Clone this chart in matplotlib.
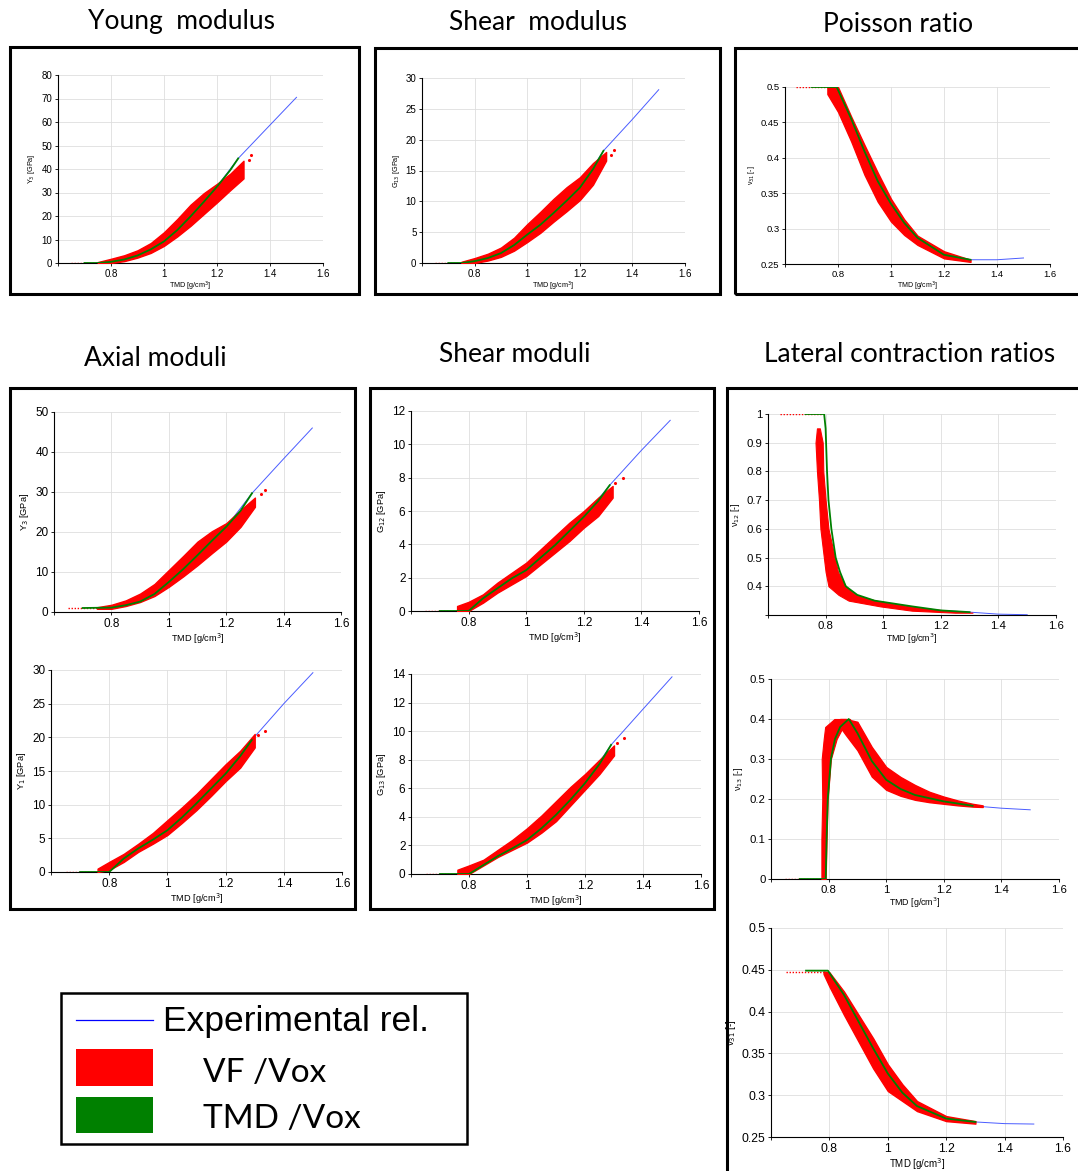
import matplotlib
matplotlib.use("Agg")
import matplotlib.pyplot as plt
from matplotlib.patches import Rectangle
from matplotlib.lines import Line2D
from matplotlib.ticker import FuncFormatter

plt.rcParams['font.family'] = ['Liberation Sans', 'DejaVu Sans']

W, H = 1078, 1171

# ---------------- data ----------------
# each panel: TMD/Vox curve (green), experimental relation (blue),
# VF/Vox scatter band (red, lower/upper edge), flat red run, outliers

# Young modulus Y3
ya_tmd_x = [0.70, 0.75, 0.80, 0.85, 0.90, 0.95, 1.00, 1.05, 1.10, 1.15, 1.20, 1.25, 1.28]
ya_tmd_y = [0, 0, 0.5, 1.5, 3.2, 5.8, 9.2, 14, 19.8, 26, 32.5, 39.5, 44.5]
ya_exp_x = [1.20, 1.28, 1.40, 1.50]
ya_exp_y = [32.5, 44.5, 58.7, 70.5]
ya_vf_x = [0.75, 0.80, 0.85, 0.90, 0.95, 1.00, 1.05, 1.10, 1.15, 1.20, 1.25, 1.30]
ya_vf_lo = [0, 0, 0.8, 2.3, 4.3, 7.3, 11.3, 15.8, 20.8, 25.8, 31, 36]
ya_vf_hi = [0.4, 1.8, 3.3, 5.4, 8.5, 13.1, 18.7, 24.8, 29.7, 33.7, 38, 43.5]
ya_flat = [0.65, 0.77, 0]
ya_out_x, ya_out_y = [1.33, 1.32], [46, 44]

# Shear modulus G13
yb_tmd_x = [0.70, 0.75, 0.80, 0.85, 0.90, 0.95, 1.00, 1.05, 1.10, 1.15, 1.20, 1.25, 1.29]
yb_tmd_y = [0, 0, 0.3, 0.8, 1.6, 2.9, 4.6, 6.2, 8.1, 10.1, 12.2, 15.2, 18.2]
yb_exp_x = [1.20, 1.29, 1.40, 1.50]
yb_exp_y = [12.2, 18.2, 23.3, 28.1]
yb_vf_x = [0.75, 0.80, 0.85, 0.90, 0.95, 1.00, 1.05, 1.10, 1.15, 1.20, 1.25, 1.30]
yb_vf_lo = [0, 0, 0.4, 1.0, 2.0, 3.4, 4.9, 6.7, 8.4, 10.2, 12.7, 16.6]
yb_vf_hi = [0.2, 0.8, 1.5, 2.5, 4.1, 6.3, 8.3, 10.4, 12.3, 13.9, 16.2, 18.0]
yb_flat = [0.65, 0.77, 0]
yb_out_x, yb_out_y = [1.33, 1.32], [18.3, 17.5]

# Poisson ratio
yc_tmd_x = [0.70, 0.795, 0.85, 0.90, 0.95, 1.00, 1.05, 1.10, 1.20, 1.30]
yc_tmd_y = [0.5, 0.5, 0.455, 0.409, 0.367, 0.335, 0.308, 0.287, 0.263, 0.256]
yc_exp_x = [1.20, 1.30, 1.40, 1.50]
yc_exp_y = [0.263, 0.256, 0.256, 0.2585]
yc_vf_x = [0.76, 0.80, 0.85, 0.90, 0.95, 1.00, 1.05, 1.10, 1.20, 1.30]
yc_vf_lo = [0.49, 0.465, 0.423, 0.376, 0.338, 0.31, 0.291, 0.277, 0.258, 0.253]
yc_vf_hi = [0.5, 0.5, 0.458, 0.418, 0.379, 0.342, 0.313, 0.29, 0.268, 0.256]
yc_flat = [0.64, 0.78, 0.5]
yc_out_x, yc_out_y = [], []

# Axial modulus Y3
yd_tmd_x = [0.70, 0.80, 0.85, 0.90, 0.95, 1.00, 1.05, 1.10, 1.15, 1.20, 1.25, 1.29]
yd_tmd_y = [1.0, 1.1, 1.7, 2.6, 4.5, 7.5, 10.7, 14.2, 17.8, 21.3, 25.3, 29.7]
yd_exp_x = [1.20, 1.29, 1.40, 1.50]
yd_exp_y = [21.3, 29.7, 38.3, 46]
yd_vf_x = [0.75, 0.80, 0.85, 0.90, 0.95, 1.00, 1.05, 1.10, 1.15, 1.20, 1.25, 1.30]
yd_vf_lo = [0.8, 0.8, 1.5, 2.5, 4.0, 6.3, 8.9, 11.7, 14.7, 17.6, 21.3, 26.3]
yd_vf_hi = [1.2, 1.8, 2.9, 4.6, 7.0, 10.5, 14.0, 17.6, 20.2, 22.2, 25.5, 28.6]
yd_flat = [0.65, 0.77, 1.0]
yd_out_x, yd_out_y = [1.335, 1.32], [30.5, 29.5]

# Shear modulus G12
ye_tmd_x = [0.70, 0.80, 0.85, 0.90, 0.95, 1.00, 1.05, 1.10, 1.15, 1.20, 1.25, 1.29]
ye_tmd_y = [0, 0, 0.76, 1.36, 1.96, 2.45, 3.2, 3.95, 4.8, 5.65, 6.6, 7.55]
ye_exp_x = [1.20, 1.29, 1.40, 1.50]
ye_exp_y = [5.65, 7.55, 9.64, 11.44]
ye_vf_x = [0.76, 0.80, 0.85, 0.90, 0.95, 1.00, 1.05, 1.10, 1.15, 1.20, 1.25, 1.30]
ye_vf_lo = [0, 0, 0.5, 1.1, 1.6, 2.1, 2.8, 3.5, 4.2, 5.0, 5.7, 6.8]
ye_vf_hi = [0.3, 0.55, 1.0, 1.7, 2.3, 2.9, 3.7, 4.5, 5.3, 6.0, 6.8, 7.5]
ye_flat = [0.65, 0.76, 0]
ye_out_x, ye_out_y = [1.335, 1.31], [8.0, 7.7]

# Axial modulus Y1
yf_tmd_x = [0.70, 0.80, 0.85, 0.90, 0.95, 1.00, 1.05, 1.10, 1.15, 1.20, 1.25, 1.29]
yf_tmd_y = [0, 0, 2.0, 3.5, 4.8, 6.2, 8.1, 10.2, 12.4, 14.6, 17.2, 19.6]
yf_exp_x = [1.20, 1.29, 1.40, 1.50]
yf_exp_y = [14.6, 19.6, 25.0, 29.6]
yf_vf_x = [0.76, 0.80, 0.85, 0.90, 0.95, 1.00, 1.05, 1.10, 1.15, 1.20, 1.25, 1.30]
yf_vf_lo = [0, 0.3, 1.5, 3.0, 4.2, 5.5, 7.3, 9.2, 11.3, 13.5, 15.5, 18.5]
yf_vf_hi = [0.5, 1.5, 2.7, 4.2, 5.8, 7.7, 9.6, 11.6, 13.8, 16.0, 18.0, 20.5]
yf_flat = [0.65, 0.76, 0]
yf_out_x, yf_out_y = [1.335, 1.31], [21.0, 20.4]

# Shear modulus G13 (lower)
yg_tmd_x = [0.70, 0.80, 0.85, 0.90, 0.95, 1.00, 1.05, 1.10, 1.15, 1.20, 1.25, 1.29]
yg_tmd_y = [0, 0, 0.63, 1.26, 1.8, 2.38, 3.2, 4.14, 5.2, 6.36, 7.7, 9.04]
yg_exp_x = [1.20, 1.29, 1.40, 1.50]
yg_exp_y = [6.36, 9.04, 11.54, 13.8]
yg_vf_x = [0.76, 0.80, 0.85, 0.90, 0.95, 1.00, 1.05, 1.10, 1.15, 1.20, 1.25, 1.30]
yg_vf_lo = [0, 0, 0.6, 1.2, 1.7, 2.2, 2.9, 3.7, 4.8, 5.9, 7.0, 8.3]
yg_vf_hi = [0.3, 0.6, 1.0, 1.7, 2.4, 3.2, 4.1, 5.1, 6.1, 7.0, 8.0, 9.0]
yg_flat = [0.65, 0.76, 0]
yg_out_x, yg_out_y = [1.335, 1.31], [9.5, 9.2]

# Lateral contraction nu12 (band given along y)
yh_tmd_x = [0.73, 0.795, 0.80, 0.805, 0.81, 0.82, 0.835, 0.85, 0.87, 0.91, 0.97, 1.10, 1.20, 1.30]
yh_tmd_y = [1.0, 1.0, 0.95, 0.8, 0.7, 0.6, 0.5, 0.45, 0.4, 0.37, 0.35, 0.33, 0.316, 0.31]
yh_exp_x = [1.20, 1.30, 1.40, 1.50]
yh_exp_y = [0.316, 0.31, 0.303, 0.301]
yh_vf_y = [0.95, 0.9, 0.8, 0.7, 0.6, 0.5, 0.45, 0.4, 0.37, 0.35, 0.33, 0.315, 0.308]
yh_vf_xl = [0.77, 0.765, 0.77, 0.777, 0.782, 0.794, 0.80, 0.81, 0.845, 0.88, 0.99, 1.10, 1.25]
yh_vf_xr = [0.78, 0.79, 0.792, 0.80, 0.81, 0.832, 0.843, 0.87, 0.905, 0.975, 1.09, 1.22, 1.31]
yh_flat = [0.64, 0.79, 1.0]

# Lateral contraction nu13 (rising part along y, falling part along x)
yi_tmd_x = [0.70, 0.79, 0.793, 0.797, 0.808, 0.822, 0.84, 0.87, 0.90, 0.95, 1.00, 1.05, 1.10, 1.20, 1.30]
yi_tmd_y = [0, 0, 0.1, 0.2, 0.3, 0.35, 0.38, 0.40, 0.365, 0.295, 0.248, 0.225, 0.21, 0.194, 0.183]
yi_exp_x = [1.20, 1.30, 1.40, 1.50]
yi_exp_y = [0.194, 0.183, 0.177, 0.173]
yi_up_y = [0.0, 0.1, 0.2, 0.3, 0.35, 0.38, 0.40]
yi_up_xl = [0.775, 0.775, 0.778, 0.776, 0.783, 0.788, 0.82]
yi_up_xr = [0.79, 0.793, 0.797, 0.808, 0.828, 0.85, 0.875]
yi_vf_x = [0.84, 0.86, 0.90, 0.95, 1.00, 1.05, 1.10, 1.15, 1.20, 1.25, 1.30, 1.335]
yi_vf_lo = [0.38, 0.36, 0.322, 0.256, 0.223, 0.208, 0.198, 0.192, 0.188, 0.184, 0.181, 0.18]
yi_vf_hi = [0.40, 0.40, 0.393, 0.33, 0.28, 0.255, 0.235, 0.218, 0.206, 0.196, 0.188, 0.184]
yi_flat = [0.65, 0.78, 0]

# Lateral contraction nu31
yj_tmd_x = [0.72, 0.795, 0.85, 0.90, 0.95, 1.00, 1.05, 1.10, 1.20, 1.30]
yj_tmd_y = [0.449, 0.449, 0.42, 0.388, 0.356, 0.326, 0.303, 0.287, 0.272, 0.268]
yj_exp_x = [1.20, 1.30, 1.40, 1.50]
yj_exp_y = [0.272, 0.268, 0.266, 0.2655]
yj_vf_x = [0.78, 0.80, 0.85, 0.90, 0.95, 1.00, 1.05, 1.10, 1.20, 1.30]
yj_vf_lo = [0.445, 0.43, 0.396, 0.364, 0.332, 0.305, 0.293, 0.281, 0.269, 0.266]
yj_vf_hi = [0.448, 0.447, 0.424, 0.396, 0.368, 0.337, 0.313, 0.293, 0.275, 0.269]
yj_flat = [0.65, 0.78, 0.447]

x_ticks = [0.6, 0.8, 1.0, 1.2, 1.4, 1.6]

fig = plt.figure(figsize=(W / 100, H / 100), dpi=100)


def px_rect(l, t, r, b):
    return [l / W, 1 - b / H, (r - l) / W, (b - t) / H]


def make_axes(box, ylim, yticks, ylabel, fs, hide=()):
    ax = fig.add_axes(px_rect(*box))
    ax.set_xlim(0.6, 1.6)
    ax.set_ylim(*ylim)
    ax.set_xticks(x_ticks)
    ax.set_yticks(yticks)
    ax.xaxis.set_major_formatter(FuncFormatter(lambda v, p: '' if abs(v - 0.6) < 1e-9 else '%g' % round(v, 3)))
    ax.yaxis.set_major_formatter(FuncFormatter(lambda v, p: '' if round(v, 3) in hide else '%g' % round(v, 3)))
    ax.grid(True, color='#dedede', lw=0.6)
    ax.set_axisbelow(True)
    for s in ['top', 'right']:
        ax.spines[s].set_visible(False)
    for s in ['left', 'bottom']:
        ax.spines[s].set_linewidth(0.8)
    ax.tick_params(labelsize=fs, length=2, width=0.6, pad=2)
    ax.set_xlabel('TMD [g/cm$^3$]', fontsize=fs - 1.8, labelpad=1)
    ax.set_ylabel(ylabel, fontsize=fs - 1.8, labelpad=3)
    return ax


def draw(ax, tmd_x, tmd_y, exp_x, exp_y, flat, out_x=(), out_y=()):
    ax.plot(exp_x, exp_y, color='#4a5cff', lw=0.7, zorder=2)
    ax.plot(flat[:2], [flat[2], flat[2]], color='red', lw=1.0, ls=(0, (1, 1.2)), zorder=3)
    if len(out_x):
        ax.scatter(out_x, out_y, s=1.5, color='red', zorder=3)
    ax.plot(tmd_x, tmd_y, color='#008000', lw=1.3, zorder=4)


def band(ax, x, lo, hi):
    ax.fill_between(x, lo, hi, color='red', lw=1.0, ec='red', zorder=3)


# top row
ax = make_axes((58, 75, 323, 263), (0, 80), range(0, 81, 10), 'Y$_3$ [GPa]', 7)
band(ax, ya_vf_x, ya_vf_lo, ya_vf_hi)
draw(ax, ya_tmd_x, ya_tmd_y, ya_exp_x, ya_exp_y, ya_flat, ya_out_x, ya_out_y)

ax = make_axes((422, 78, 685, 263), (0, 30), range(0, 31, 5), 'G$_{13}$ [GPa]', 7)
band(ax, yb_vf_x, yb_vf_lo, yb_vf_hi)
draw(ax, yb_tmd_x, yb_tmd_y, yb_exp_x, yb_exp_y, yb_flat, yb_out_x, yb_out_y)

ax = make_axes((785, 87, 1050, 264), (0.25, 0.5), [0.25, 0.3, 0.35, 0.4, 0.45, 0.5], '\u03bd$_{31}$ [-]', 6.8)
band(ax, yc_vf_x, yc_vf_lo, yc_vf_hi)
draw(ax, yc_tmd_x, yc_tmd_y, yc_exp_x, yc_exp_y, yc_flat)

# axial moduli
ax = make_axes((54, 412, 341, 612), (0, 50), range(0, 51, 10), 'Y$_3$ [GPa]', 8.5)
band(ax, yd_vf_x, yd_vf_lo, yd_vf_hi)
draw(ax, yd_tmd_x, yd_tmd_y, yd_exp_x, yd_exp_y, yd_flat, yd_out_x, yd_out_y)

ax = make_axes((51, 670, 342, 872), (0, 30), range(0, 31, 5), 'Y$_1$ [GPa]', 8.5)
band(ax, yf_vf_x, yf_vf_lo, yf_vf_hi)
draw(ax, yf_tmd_x, yf_tmd_y, yf_exp_x, yf_exp_y, yf_flat, yf_out_x, yf_out_y)

# shear moduli
ax = make_axes((411, 411, 699, 611), (0, 12), range(0, 13, 2), 'G$_{12}$ [GPa]', 8.5)
band(ax, ye_vf_x, ye_vf_lo, ye_vf_hi)
draw(ax, ye_tmd_x, ye_tmd_y, ye_exp_x, ye_exp_y, ye_flat, ye_out_x, ye_out_y)

ax = make_axes((411, 674, 701, 874), (0, 14), range(0, 15, 2), 'G$_{13}$ [GPa]', 8.5)
band(ax, yg_vf_x, yg_vf_lo, yg_vf_hi)
draw(ax, yg_tmd_x, yg_tmd_y, yg_exp_x, yg_exp_y, yg_flat, yg_out_x, yg_out_y)

# lateral contraction ratios
ax = make_axes((768, 414, 1056, 615), (0.3, 1.0), [0.3, 0.4, 0.5, 0.6, 0.7, 0.8, 0.9, 1.0],
               '\u03bd$_{12}$ [-]', 8.2, hide=(0.3,))
ax.fill_betweenx(yh_vf_y, yh_vf_xl, yh_vf_xr, color='red', lw=0.8, ec='red', zorder=3)
draw(ax, yh_tmd_x, yh_tmd_y, yh_exp_x, yh_exp_y, yh_flat)

ax = make_axes((771, 679, 1059, 879), (0, 0.5), [0, 0.1, 0.2, 0.3, 0.4, 0.5], '\u03bd$_{13}$ [-]', 8.2)
ax.fill_betweenx(yi_up_y, yi_up_xl, yi_up_xr, color='red', lw=0.8, ec='red', zorder=3)
band(ax, yi_vf_x, yi_vf_lo, yi_vf_hi)
draw(ax, yi_tmd_x, yi_tmd_y, yi_exp_x, yi_exp_y, yi_flat)

ax = make_axes((771, 928, 1063, 1137), (0.25, 0.5), [0.25, 0.3, 0.35, 0.4, 0.45, 0.5], '\u03bd$_{31}$ [-]', 8.8)
band(ax, yj_vf_x, yj_vf_lo, yj_vf_hi)
draw(ax, yj_tmd_x, yj_tmd_y, yj_exp_x, yj_exp_y, yj_flat)

# frames round each group
for l, t, r, b in [(10, 47, 359, 294), (375, 48, 720, 294), (735, 48, 1090, 294),
                   (10, 388, 355, 909), (370, 388, 714, 909), (727, 388, 1090, 1185)]:
    fig.add_artist(Rectangle((l / W, 1 - b / H), (r - l) / W, (b - t) / H, transform=fig.transFigure,
                             fill=False, ec='black', lw=2.2))

# group titles
title_font = ['Lato', 'DejaVu Sans']
for txt, x, y in [('Young  modulus', 182, 22), ('Shear  modulus', 538, 22), ('Poisson ratio', 898, 24),
                  ('Axial moduli', 155, 358), ('Shear moduli', 515, 355),
                  ('Lateral contraction ratios', 910, 355)]:
    fig.text(x / W, 1 - y / H, txt, ha='center', va='center', fontsize=19, family=title_font)

# legend box
fig.add_artist(Rectangle((61 / W, 1 - 1144 / H), 406 / W, 151 / H, transform=fig.transFigure,
                         fill=False, ec='black', lw=1.8))
fig.add_artist(Line2D([76 / W, 153 / W], [1 - 1020 / H] * 2, transform=fig.transFigure, color='#0000ff', lw=0.9))
fig.add_artist(Rectangle((76 / W, 1 - 1086 / H), 77 / W, 37 / H, transform=fig.transFigure, fc='red', ec='none'))
fig.add_artist(Rectangle((76 / W, 1 - 1133 / H), 77 / W, 36 / H, transform=fig.transFigure, fc='#008000', ec='none'))
fig.text(163 / W, 1 - 1022 / H, 'Experimental rel.', ha='left', va='center', fontsize=25.5)
fig.text(203 / W, 1 - 1073 / H, 'VF /Vox', ha='left', va='center', fontsize=24, family=title_font)
fig.text(203 / W, 1 - 1119 / H, 'TMD /Vox', ha='left', va='center', fontsize=24, family=title_font)

fig.savefig('out.png', dpi=100, facecolor='white')
